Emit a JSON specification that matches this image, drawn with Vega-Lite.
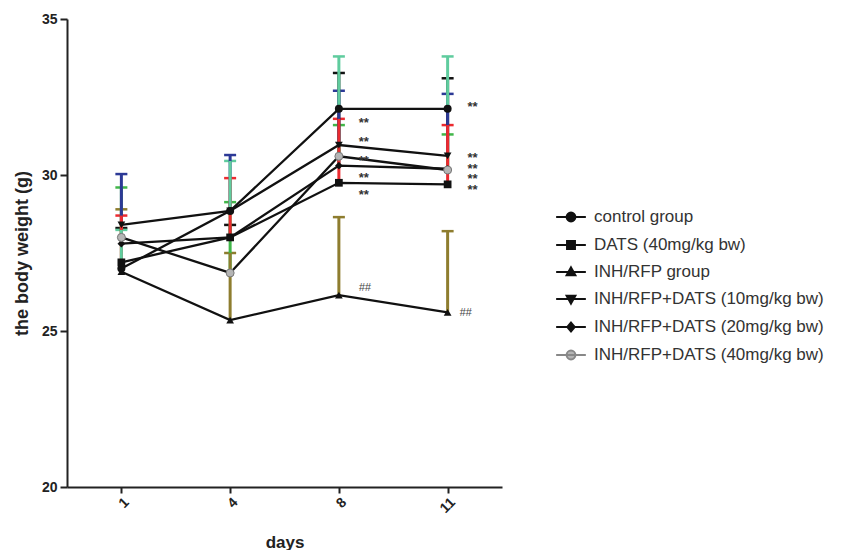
{
  "$schema": "https://vega.github.io/schema/vega-lite/v6.json",
  "width": 435,
  "height": 468,
  "autosize": {"type": "none"},
  "padding": {"left": 67, "top": 19, "right": 341, "bottom": 63},
  "background": "white",
  "config": {"view": {"stroke": null}, "font": "Liberation Sans"},
  "datasets": {
    "d": [
      {"group": "INH/RFP+DATS (20mg/kg bw)", "day": 1, "mean": 27.8, "upper": 28.3},
      {"group": "INH/RFP+DATS (20mg/kg bw)", "day": 4, "mean": 28.0, "upper": 28.4},
      {"group": "INH/RFP+DATS (20mg/kg bw)", "day": 8, "mean": 30.3, "upper": 33.27},
      {"group": "INH/RFP+DATS (20mg/kg bw)", "day": 11, "mean": 30.2, "upper": 33.1},
      {"group": "INH/RFP+DATS (40mg/kg bw)", "day": 1, "mean": 28.0, "upper": 29.6},
      {"group": "INH/RFP+DATS (40mg/kg bw)", "day": 4, "mean": 26.86, "upper": 29.13},
      {"group": "INH/RFP+DATS (40mg/kg bw)", "day": 8, "mean": 30.6, "upper": 31.6},
      {"group": "INH/RFP+DATS (40mg/kg bw)", "day": 11, "mean": 30.16, "upper": 31.3},
      {"group": "INH/RFP group", "day": 1, "mean": 26.9, "upper": 28.9},
      {"group": "INH/RFP group", "day": 4, "mean": 25.35, "upper": 27.5},
      {"group": "INH/RFP group", "day": 8, "mean": 26.15, "upper": 28.65},
      {"group": "INH/RFP group", "day": 11, "mean": 25.6, "upper": 28.2},
      {"group": "INH/RFP+DATS (10mg/kg bw)", "day": 1, "mean": 28.4, "upper": 30.03},
      {"group": "INH/RFP+DATS (10mg/kg bw)", "day": 4, "mean": 28.85, "upper": 30.64},
      {"group": "INH/RFP+DATS (10mg/kg bw)", "day": 8, "mean": 30.96, "upper": 32.7},
      {"group": "INH/RFP+DATS (10mg/kg bw)", "day": 11, "mean": 30.61, "upper": 32.6},
      {"group": "DATS (40mg/kg bw)", "day": 1, "mean": 27.2, "upper": 28.7},
      {"group": "DATS (40mg/kg bw)", "day": 4, "mean": 28.0, "upper": 29.9},
      {"group": "DATS (40mg/kg bw)", "day": 8, "mean": 29.75, "upper": 31.8},
      {"group": "DATS (40mg/kg bw)", "day": 11, "mean": 29.7, "upper": 31.6},
      {"group": "control group", "day": 1, "mean": 27.0, "upper": 28.24},
      {"group": "control group", "day": 4, "mean": 28.85, "upper": 30.45},
      {"group": "control group", "day": 8, "mean": 32.12, "upper": 33.8},
      {"group": "control group", "day": 11, "mean": 32.12, "upper": 33.8}
    ],
    "ast": [
      {"day": 8, "y": 31.76, "label": "**"},
      {"day": 8, "y": 31.15, "label": "**"},
      {"day": 8, "y": 30.54, "label": "**"},
      {"day": 8, "y": 30.0, "label": "**"},
      {"day": 8, "y": 29.46, "label": "**"},
      {"day": 11, "y": 32.28, "label": "**"},
      {"day": 11, "y": 30.64, "label": "**"},
      {"day": 11, "y": 30.29, "label": "**"},
      {"day": 11, "y": 29.97, "label": "**"},
      {"day": 11, "y": 29.62, "label": "**"}
    ],
    "hash": [
      {"day": 8, "y": 26.38, "label": "##"},
      {"day": 11, "y": 25.58, "label": "##"}
    ]
  },
  "encoding": {
    "x": {
      "field": "day",
      "type": "ordinal",
      "scale": {"type": "point", "domain": [1, 4, 8, 11], "padding": 0.5},
      "axis": {
        "title": "days",
        "titleFontSize": 17,
        "titleFontWeight": "bold",
        "titleColor": "#222",
        "titleY": 55,
        "titleBaseline": "middle",
        "labelAngle": -45,
        "labelFontSize": 14,
        "labelFontWeight": "bold",
        "labelColor": "#222",
        "tickSize": 6,
        "tickWidth": 2,
        "tickColor": "#222",
        "domainWidth": 2,
        "domainColor": "#222",
        "grid": false
      }
    }
  },
  "layer": [
    {
      "data": {"name": "d"},
      "mark": {"type": "tick", "thickness": 2.5, "size": 12, "opacity": 1},
      "encoding": {
        "y": {"field": "upper", "type": "quantitative"},
        "color": {
          "field": "group",
          "type": "nominal",
          "scale": {
            "domain": ["INH/RFP+DATS (20mg/kg bw)", "INH/RFP+DATS (40mg/kg bw)", "INH/RFP group", "INH/RFP+DATS (10mg/kg bw)", "DATS (40mg/kg bw)", "control group"],
            "range": ["#111111", "#41b649", "#8e7d2f", "#2c3996", "#ec2a2f", "#5fcc9e"]
          },
          "legend": null
        }
      }
    },
    {
      "data": {"name": "d"},
      "mark": {"type": "rule", "strokeWidth": 3, "opacity": 1},
      "encoding": {
        "y": {
          "field": "mean",
          "type": "quantitative",
          "scale": {"domain": [20, 35], "nice": false, "zero": false},
          "axis": {
            "title": "the body weight (g)",
            "titleFontSize": 18,
            "titleFontWeight": "bold",
            "titleColor": "#222",
            "titleX": -45,
            "titleBaseline": "middle",
            "values": [20, 25, 30, 35],
            "labelFontSize": 14,
            "labelFontWeight": "bold",
            "labelColor": "#222",
            "labelPadding": 3,
            "tickSize": 7,
            "tickWidth": 2,
            "tickColor": "#222",
            "domainWidth": 2,
            "domainColor": "#222",
            "grid": false
          }
        },
        "y2": {"field": "upper"},
        "color": {"field": "group", "type": "nominal", "legend": null}
      }
    },
    {
      "data": {"name": "d"},
      "mark": {"type": "line", "color": "#111111", "strokeWidth": 2.3},
      "encoding": {
        "y": {"field": "mean", "type": "quantitative"},
        "detail": {"field": "group", "type": "nominal"},
        "order": {"field": "day", "type": "quantitative"}
      }
    },
    {
      "data": {"name": "d"},
      "mark": {"type": "point", "filled": true, "size": 60, "opacity": 0, "strokeWidth": 2},
      "encoding": {
        "y": {"field": "mean", "type": "quantitative"},
        "shape": {
          "field": "group",
          "type": "nominal",
          "scale": {
            "domain": ["control group", "DATS (40mg/kg bw)", "INH/RFP group", "INH/RFP+DATS (10mg/kg bw)", "INH/RFP+DATS (20mg/kg bw)", "INH/RFP+DATS (40mg/kg bw)"],
            "range": [
              "M-1.35,0H1.35M0.4,0A0.4,0.4,0,1,1,-0.4,0A0.4,0.4,0,1,1,0.4,0Z",
              "M-1.35,0H1.35M-0.36,-0.36H0.36V0.36H-0.36Z",
              "M-1.35,0H1.35M0,-0.42L0.4,0.3H-0.4Z",
              "M-1.35,0H1.35M0,0.42L0.4,-0.3H-0.4Z",
              "M-1.35,0H1.35M0,-0.4L0.34,0L0,0.4L-0.34,0Z",
              "M-1.35,0H1.35M0.4,0A0.4,0.4,0,1,1,-0.4,0A0.4,0.4,0,1,1,0.4,0Z"
            ]
          },
          "legend": {
            "title": null,
            "orient": "none",
            "legendX": 492,
            "legendY": 186,
            "padding": 0,
            "rowPadding": 7,
            "symbolSize": 484,
            "symbolOpacity": 1,
            "symbolStrokeWidth": 2,
            "labelFontSize": 17,
            "labelFont": "Liberation Sans",
            "labelColor": "#333",
            "labelOffset": 11,
            "labelLimit": 400
          }
        },
        "fill": {
          "field": "group",
          "type": "nominal",
          "scale": {
            "domain": ["control group", "DATS (40mg/kg bw)", "INH/RFP group", "INH/RFP+DATS (10mg/kg bw)", "INH/RFP+DATS (20mg/kg bw)", "INH/RFP+DATS (40mg/kg bw)"],
            "range": ["#111111", "#111111", "#111111", "#111111", "#111111", "#b5b5b5"]
          },
          "legend": {
            "title": null,
            "orient": "none",
            "legendX": 492,
            "legendY": 186,
            "padding": 0,
            "rowPadding": 7,
            "symbolSize": 484,
            "symbolOpacity": 1,
            "symbolStrokeWidth": 2,
            "labelFontSize": 17,
            "labelFont": "Liberation Sans",
            "labelColor": "#333",
            "labelOffset": 11,
            "labelLimit": 400
          }
        },
        "stroke": {
          "field": "group",
          "type": "nominal",
          "scale": {
            "domain": ["control group", "DATS (40mg/kg bw)", "INH/RFP group", "INH/RFP+DATS (10mg/kg bw)", "INH/RFP+DATS (20mg/kg bw)", "INH/RFP+DATS (40mg/kg bw)"],
            "range": ["#111111", "#111111", "#111111", "#111111", "#111111", "#888888"]
          },
          "legend": {
            "title": null,
            "orient": "none",
            "legendX": 492,
            "legendY": 186,
            "padding": 0,
            "rowPadding": 7,
            "symbolSize": 484,
            "symbolOpacity": 1,
            "symbolStrokeWidth": 2,
            "labelFontSize": 17,
            "labelFont": "Liberation Sans",
            "labelColor": "#333",
            "labelOffset": 11,
            "labelLimit": 400
          }
        }
      }
    },
    {
      "data": {"name": "d"},
      "transform": [{"filter": "datum.group == 'control group'"}],
      "mark": {"type": "point", "shape": "circle", "filled": true, "size": 64, "opacity": 1, "color": "#111111"},
      "encoding": {"y": {"field": "mean", "type": "quantitative"}}
    },
    {
      "data": {"name": "d"},
      "transform": [{"filter": "datum.group == 'DATS (40mg/kg bw)'"}],
      "mark": {"type": "point", "shape": "square", "filled": true, "size": 60, "opacity": 1, "color": "#111111"},
      "encoding": {"y": {"field": "mean", "type": "quantitative"}}
    },
    {
      "data": {"name": "d"},
      "transform": [{"filter": "datum.group == 'INH/RFP group'"}],
      "mark": {"type": "point", "shape": "triangle-up", "filled": true, "size": 60, "opacity": 1, "color": "#111111"},
      "encoding": {"y": {"field": "mean", "type": "quantitative"}}
    },
    {
      "data": {"name": "d"},
      "transform": [{"filter": "datum.group == 'INH/RFP+DATS (10mg/kg bw)'"}],
      "mark": {"type": "point", "shape": "triangle-down", "filled": true, "size": 60, "opacity": 1, "color": "#111111"},
      "encoding": {"y": {"field": "mean", "type": "quantitative"}}
    },
    {
      "data": {"name": "d"},
      "transform": [{"filter": "datum.group == 'INH/RFP+DATS (20mg/kg bw)'"}],
      "mark": {"type": "point", "shape": "diamond", "filled": true, "size": 60, "opacity": 1, "color": "#111111"},
      "encoding": {"y": {"field": "mean", "type": "quantitative"}}
    },
    {
      "data": {"name": "d"},
      "transform": [{"filter": "datum.group == 'INH/RFP+DATS (40mg/kg bw)'"}],
      "mark": {"type": "point", "shape": "circle", "filled": true, "size": 64, "opacity": 1, "fill": "#b5b5b5", "stroke": "#777777", "strokeWidth": 1},
      "encoding": {"y": {"field": "mean", "type": "quantitative"}}
    },
    {
      "data": {"name": "ast"},
      "mark": {"type": "text", "dx": 25, "dy": 7, "baseline": "alphabetic", "fontSize": 13, "fontWeight": "bold", "color": "#333333"},
      "encoding": {
        "y": {"field": "y", "type": "quantitative"},
        "text": {"field": "label"}
      }
    },
    {
      "data": {"name": "hash"},
      "transform": [{"filter": "datum.day == 8"}],
      "mark": {"type": "text", "dx": 26, "baseline": "middle", "fontSize": 11, "fontStyle": "italic", "color": "#444444"},
      "encoding": {
        "y": {"field": "y", "type": "quantitative"},
        "text": {"field": "label"}
      }
    },
    {
      "data": {"name": "hash"},
      "transform": [{"filter": "datum.day == 11"}],
      "mark": {"type": "text", "dx": 18, "baseline": "middle", "fontSize": 11, "fontStyle": "italic", "color": "#444444"},
      "encoding": {
        "y": {"field": "y", "type": "quantitative"},
        "text": {"field": "label"}
      }
    }
  ]
}
